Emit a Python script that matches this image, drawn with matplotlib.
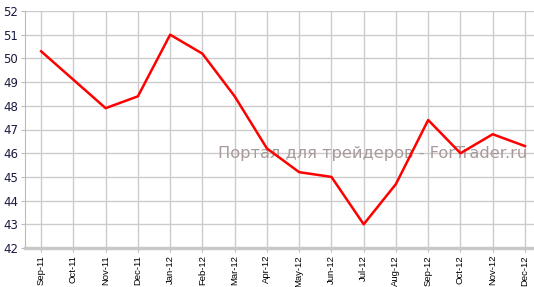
import matplotlib
matplotlib.use('Agg')
from matplotlib import pyplot as plt

months = ['Sep-11', 'Oct-11', 'Nov-11', 'Dec-11', 'Jan-12', 'Feb-12', 'Mar-12', 'Apr-12',
          'May-12', 'Jun-12', 'Jul-12', 'Aug-12', 'Sep-12', 'Oct-12', 'Nov-12', 'Dec-12']
values = [50.3, 49.1, 47.9, 48.4, 51.0, 50.2, 48.4, 46.2,
          45.2, 45.0, 43.0, 44.7, 47.4, 46.0, 46.8, 46.3]
y_ticks = list(range(42, 53))

fig = plt.figure(figsize=(5.34, 2.87), dpi=100)
ax = fig.add_axes([25 / 534, 39 / 287, 509 / 534, 237 / 287])

x = list(range(len(months)))
ax.plot(x, values, color='#ff0000', linewidth=1.8, zorder=3)

ax.set_xlim(-0.5, 15.28)
ax.set_ylim(42, 52)
ax.set_yticks(y_ticks)
ax.set_xticks(x)
ax.set_xticklabels(months, rotation=90, fontsize=6.8, family='Liberation Sans')
ax.set_yticklabels([str(v) for v in y_ticks], fontsize=8.5, color='#1a1a40', family='DejaVu Sans')

ax.grid(True, color='#cccccc', linewidth=1.0)
ax.set_axisbelow(True)
for s in ['top', 'right']:
    ax.spines[s].set_visible(False)
ax.spines['left'].set_color('#bbbbbb')
ax.spines['bottom'].set_color('#c8c8c8')
ax.spines['bottom'].set_linewidth(2.5)
ax.tick_params(axis='both', length=3, color='#bbbbbb', pad=2)

ax.text(0.683, 0.40, 'Портал для трейдеров - ForTrader.ru', transform=ax.transAxes,
        ha='center', va='center', fontsize=11.7, color='#a89a9a', zorder=2)

fig.savefig('out.png', dpi=100)
